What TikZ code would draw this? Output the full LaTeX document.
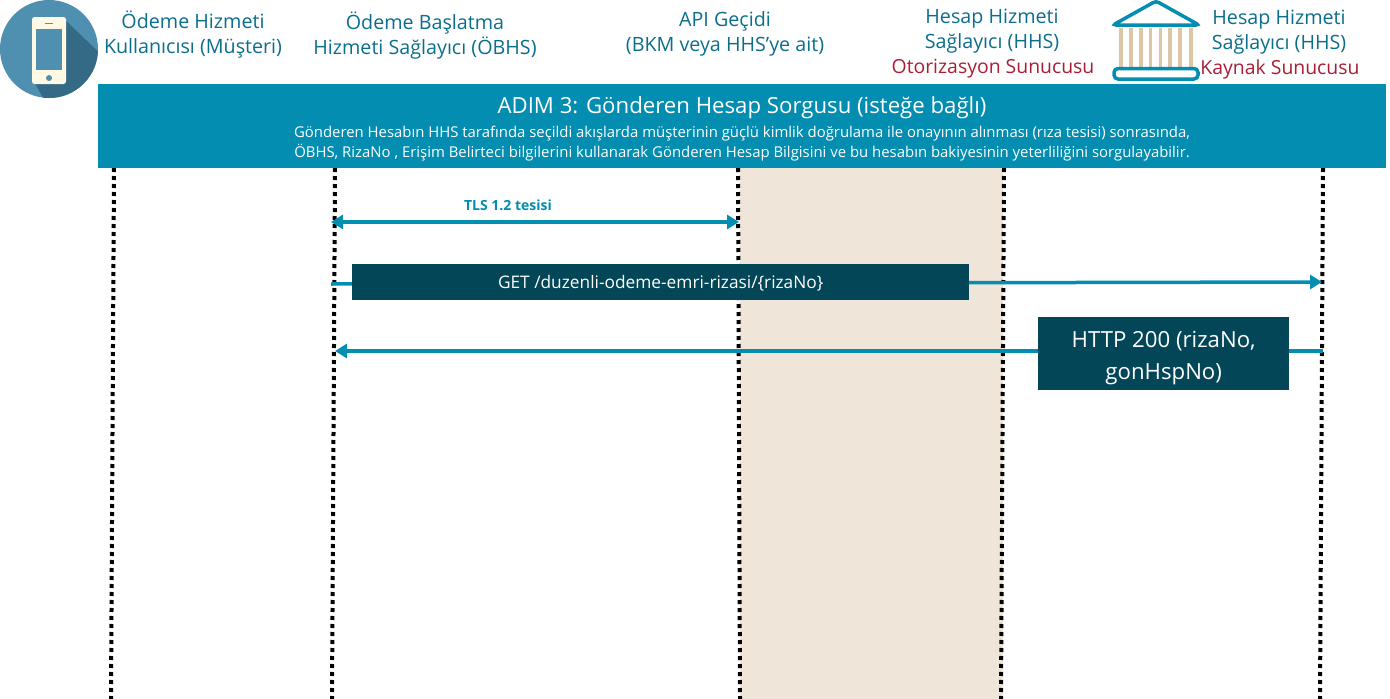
\documentclass[tikz,border=0pt]{standalone}
\usepackage{fontspec}
\setmainfont{Open Sans}
\usetikzlibrary{arrows.meta}
\definecolor{bannerblue}{HTML}{038DB0}
\definecolor{boxteal}{HTML}{024657}
\definecolor{headteal}{HTML}{0B6E8C}
\definecolor{headred}{HTML}{A81E35}
\definecolor{sandbg}{HTML}{EFE5D8}
\definecolor{columntan}{HTML}{DCC6A4}
\definecolor{iconblue}{HTML}{4F8FB0}
\definecolor{iconshade}{HTML}{356A87}
\definecolor{iconcream}{HTML}{FFF8E4}
\tikzset{
  headtext/.style={text=headteal, align=center, inner sep=0pt, font=\fontsize{19.7}{25}\selectfont},
  redtext/.style={text=headred, inner sep=0pt, font=\fontsize{19.4}{25}\selectfont},
  lifeline/.style={line width=4pt, dash pattern=on 4pt off 4pt},
  msgline/.style={draw=bannerblue, line width=3.5pt, -{Triangle[length=12pt,width=14pt]}},
  msgbox/.style={fill=boxteal, text=white, align=center, inner sep=0pt, anchor=north west},
}
\begin{document}
\begin{tikzpicture}[x=1pt,y=-1pt]
\useasboundingbox (0,0) rectangle (1390,699);
% rest of the background
\fill[sandbg] (740,168) rectangle (1003,699);
% icon of the phone
\fill[iconblue] (49,49) circle (49);
\begin{scope}
\clip (49,49) circle (49);
\fill[iconshade] (62,17) -- (110,63) -- (110,110) -- (50,110) -- (33,80) -- cycle;
\end{scope}
\fill[iconcream, rounded corners=2.5pt] (32,17) rectangle (66,84);
\fill[iconblue] (36,29) rectangle (62,70);
\fill[iconblue] (49,78) circle (3);
\draw[iconblue, line width=1pt] (45,23) -- (53,23);
% icon of the bank
\foreach \colx in {1121,1131,1141,1150.5,1160.5,1170,1180,1191}
  \draw[columntan, line width=3.5pt] (\colx,28) -- (\colx,69);
\draw[bannerblue, line width=3.5pt, rounded corners=3pt, fill=white] (1156,1) -- (1199,25) -- (1113,25) -- cycle;
\draw[bannerblue, line width=3.5pt, rounded corners=4pt, fill=white] (1114,68.5) rectangle (1198,79);
% column titles
\node[headtext] (musteri) at (193,34.5) {Ödeme Hizmeti\\Kullanıcısı (Müşteri)};
\node[headtext] (obhs) at (425,36) {Ödeme Başlatma\\Hizmeti Sağlayıcı (ÖBHS)};
\node[headtext] (gecit) at (725,34) {API Geçidi\\(BKM veya HHS’ye ait)};
\node[headtext] (otorizasyon) at (992,31) {Hesap Hizmeti\\Sağlayıcı (HHS)};
\node[redtext] (otorizasyonred) at (993,69) {Otorizasyon Sunucusu};
\node[headtext] (kaynak) at (1279,32.5) {Hesap Hizmeti\\Sağlayıcı (HHS)};
\node[redtext] (kaynakred) at (1280,69) {Kaynak Sunucusu};
% lifelines
\coordinate (obhstop) at (335,168);
\coordinate (obhsend) at (332,699);
\coordinate (gecittop) at (738,168);
\coordinate (gecitend) at (740,699);
\coordinate (otorizasyontop) at (1004,168);
\coordinate (otorizasyonend) at (1001,699);
\coordinate (kaynaktop) at (1323,168);
\coordinate (kaynakend) at (1320,699);
\coordinate (musteritop) at (114,168);
\coordinate (musteriend) at (111,699);
\foreach \lifename in {musteri,obhs,gecit,otorizasyon,kaynak}
  \draw[lifeline] (\lifename top) -- (\lifename end);
% banner on top of the lines
\node[fill=bannerblue, minimum width=1288pt, minimum height=84pt, inner sep=0pt, anchor=north west] (banner) at (98,84) {};
\node[text=white, inner sep=0pt, font=\fontsize{22.2}{25}\selectfont] (bannertitle) at (742,108) {ADIM 3: Gönderen Hesap Sorgusu (isteğe bağlı)};
\node[text=white, align=center, inner sep=0pt, font=\fontsize{14.9}{20}\selectfont] (bannertext) at (742,144) {Gönderen Hesabın HHS tarafında seçildi akışlarda müşterinin güçlü kimlik doğrulama ile onayının alınması (rıza tesisi) sonrasında,\\ÖBHS, RizaNo , Erişim Belirteci bilgilerini kullanarak Gönderen Hesap Bilgisini ve bu hesabın bakiyesinin yeterliliğini sorgulayabilir.};
% messages
\coordinate (tlsleft) at (331,222);
\coordinate (tlsright) at (739,222);
\coordinate (getleft) at (331,284);
\coordinate (getright) at (1322,282);
\coordinate (httpright) at (1323,351);
\coordinate (httpleft) at (335,351);
\draw[msgline, {Triangle[length=12pt,width=14pt]}-{Triangle[length=12pt,width=14pt]}] (tlsleft) -- (tlsright);
\node[text=bannerblue, inner sep=0pt, font=\fontsize{14}{16}\selectfont\bfseries] (tlslabel) at (508,205) {TLS 1.2 tesisi};
\draw[msgline] (getleft) -- (getright);
\draw[msgline] (httpright) -- (httpleft);
\node[msgbox, minimum width=617pt, minimum height=36pt, font=\fontsize{17.3}{20}\selectfont, text depth=0pt, text height=13pt] (getbox) at (352,264) {GET /duzenli-odeme-emri-rizasi/\{rizaNo\}};
\node[msgbox, minimum width=251pt, minimum height=73pt, font=\fontsize{22.2}{32}\selectfont] (httpbox) at (1038,317) {\rule{0pt}{25pt}HTTP 200 (rizaNo,\\gonHspNo)};
\end{tikzpicture}
\end{document}
